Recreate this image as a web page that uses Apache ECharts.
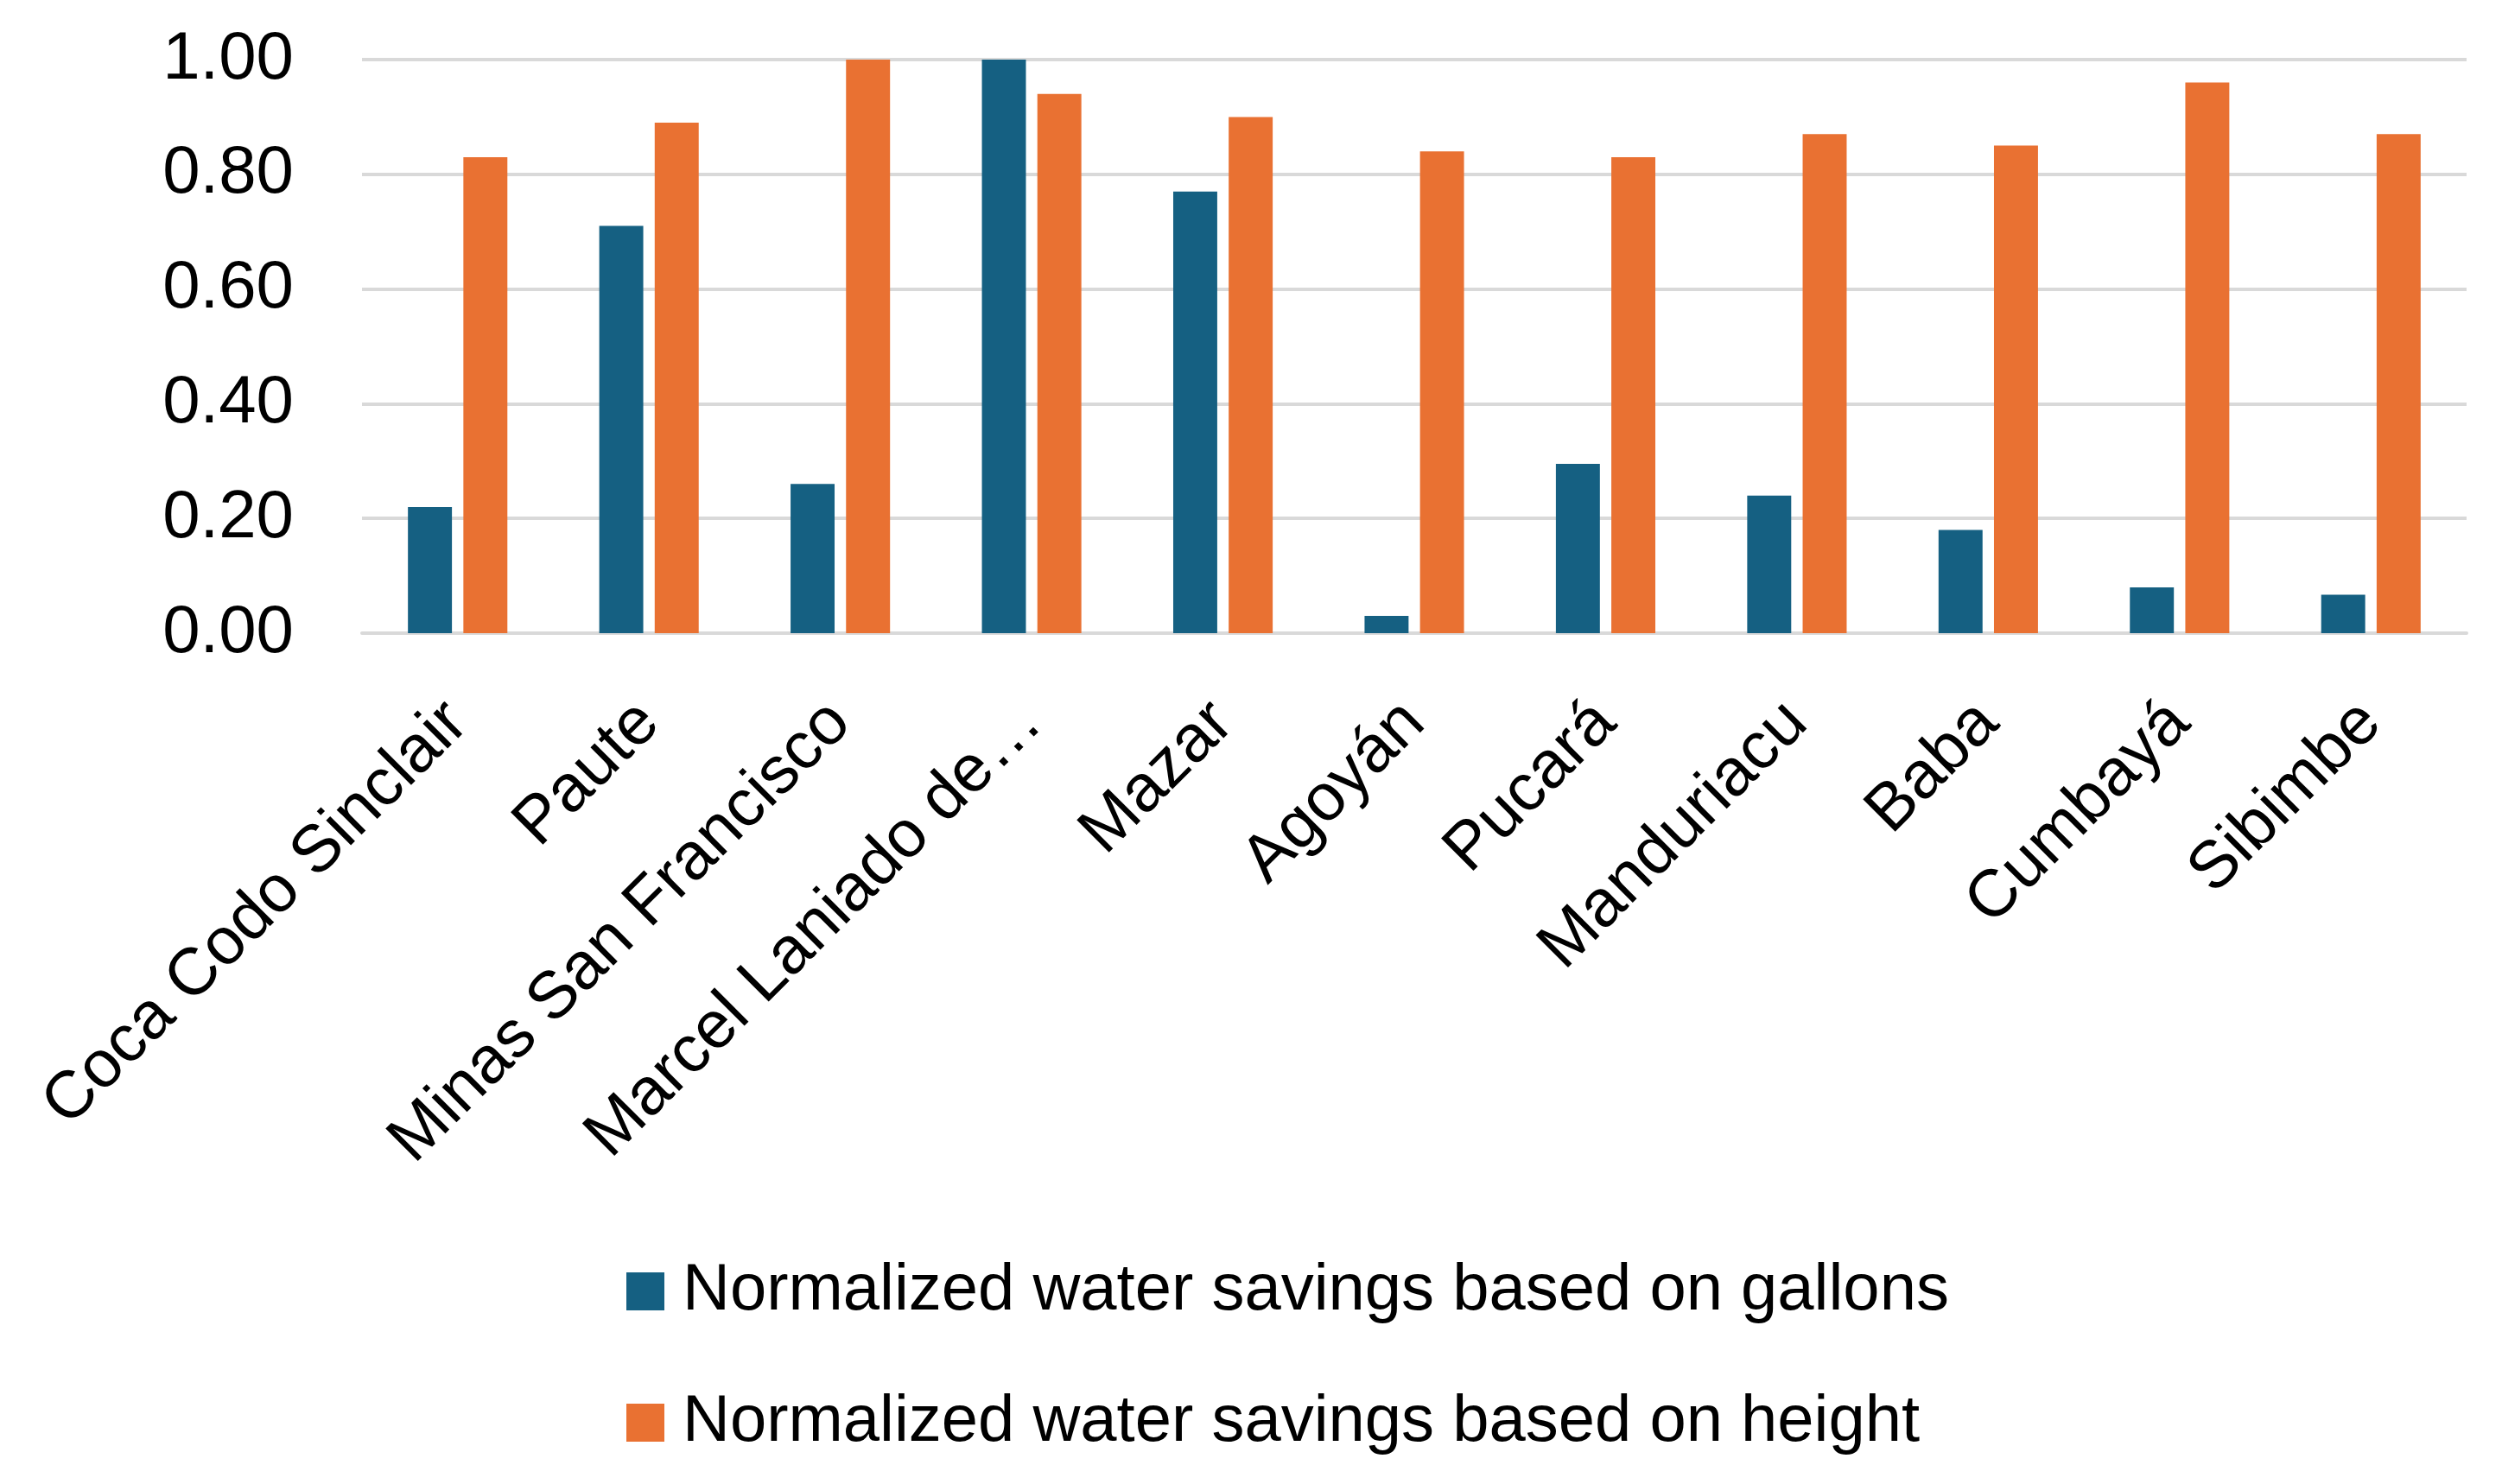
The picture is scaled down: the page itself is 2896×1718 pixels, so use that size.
<!DOCTYPE html>
<html>
<head>
<meta charset="utf-8">
<script src="https://cdn.jsdelivr.net/npm/echarts@6/dist/echarts.min.js"></script>
<style>
html,body{margin:0;padding:0;background:#fff;}
#chart{width:2896px;height:1718px;}
</style>
</head>
<body>
<div id="chart"></div>
<script>
const categories = ['Coca Codo Sinclair','Paute','Minas San Francisco','Marcel Laniado de Wind','Mazar','Agoyán','Pucará','Manduriacu','Baba','Cumbayá','Sibimbe'];
const gallonsValues = [0.22, 0.71, 0.26, 1.00, 0.77, 0.03, 0.295, 0.24, 0.18, 0.08, 0.067];
const heightValues = [0.83, 0.89, 1.00, 0.94, 0.90, 0.84, 0.83, 0.87, 0.85, 0.96, 0.87];
const yTicks = [0, 0.2, 0.4, 0.6, 0.8, 1.0];
const seriesNames = ['Normalized water savings based on gallons','Normalized water savings based on height'];

const FONT = 'Liberation Sans';
const legendText = { fontFamily: FONT, fontSize: 76, color: '#000', padding: [0,0,0,16] };
const chart = echarts.init(document.getElementById('chart'));
chart.setOption({
  backgroundColor: '#ffffff',
  animation: false,
  textStyle: { fontFamily: FONT },
  grid: { left: 419, right: 41, top: 69, bottom: 985, containLabel: false },
  legend: [
    {
      left: 720, top: 1452,
      itemWidth: 44, itemHeight: 44, icon: 'rect',
      textStyle: legendText,
      data: [seriesNames[0]]
    },
    {
      left: 720, top: 1604,
      itemWidth: 44, itemHeight: 44, icon: 'rect',
      textStyle: legendText,
      data: [seriesNames[1]]
    }
  ],
  xAxis: {
    type: 'category',
    data: categories,
    axisLine: { show: true, lineStyle: { color: '#D9D9D9', width: 4 } },
    axisTick: { show: false },
    axisLabel: {
      interval: 0,
      rotate: 45,
      margin: 92,
      fontFamily: FONT,
      fontSize: 77,
      color: '#000',
      formatter: function (v) { return v.length > 20 ? v.slice(0, 17) + '…' : v; }
    }
  },
  yAxis: {
    type: 'value',
    min: 0,
    max: 1,
    interval: 0.2,
    axisLine: { show: false },
    axisTick: { show: false },
    splitLine: { lineStyle: { color: '#D9D9D9', width: 4 } },
    axisLabel: {
      margin: 79,
      fontFamily: FONT,
      fontSize: 78,
      color: '#000',
      formatter: function (v) { return v.toFixed(2); }
    }
  },
  series: [
    {
      name: seriesNames[0],
      type: 'bar',
      data: gallonsValues,
      barWidth: '23%',
      barGap: '26%',
      itemStyle: { color: '#156082' }
    },
    {
      name: seriesNames[1],
      type: 'bar',
      data: heightValues,
      barWidth: '23%',
      itemStyle: { color: '#E97132' }
    }
  ]
});
</script>
</body>
</html>
